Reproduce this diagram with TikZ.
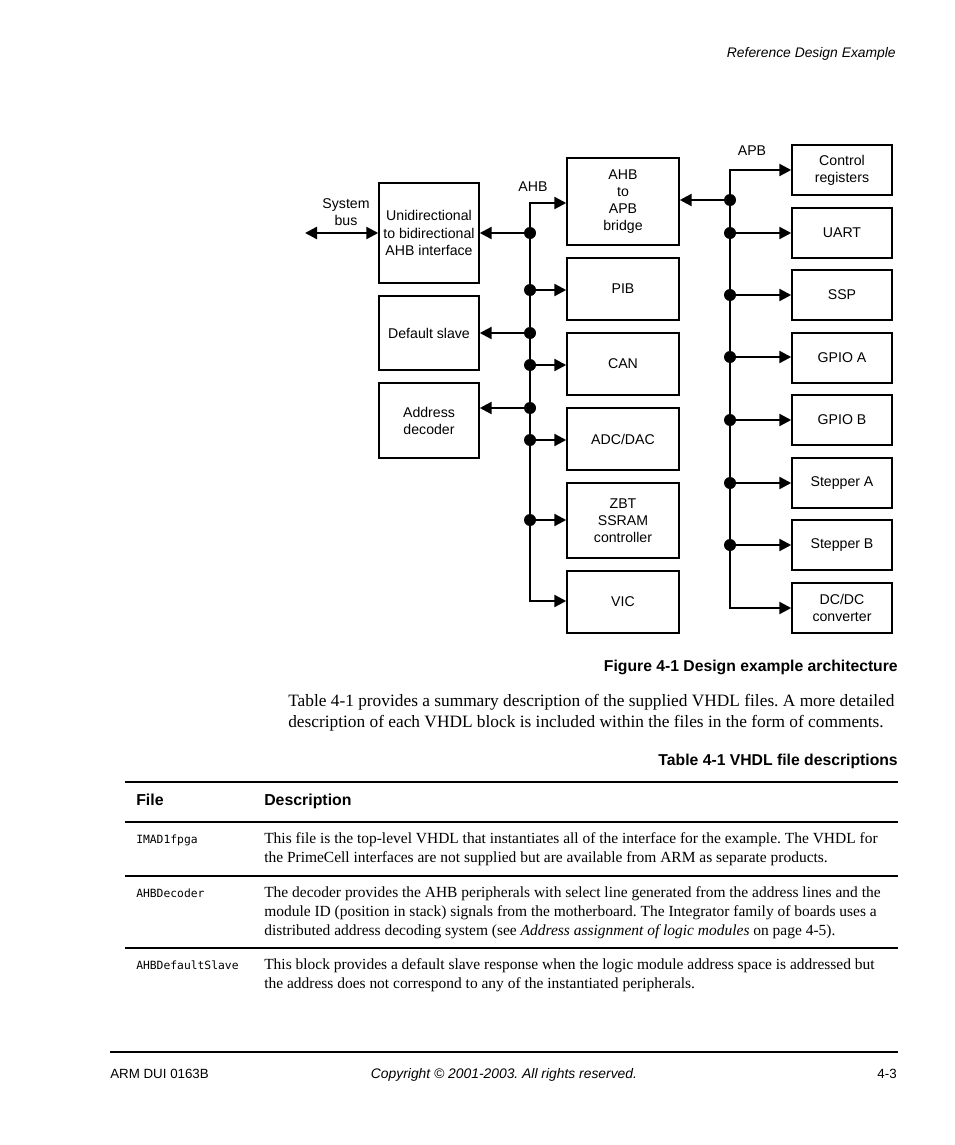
\documentclass[tikz,border=0pt]{standalone}
\usepackage{fontspec}
\setmainfont{Liberation Serif}
\setsansfont{Liberation Sans}
\setmonofont{DejaVu Sans Mono}
\usetikzlibrary{arrows.meta}
\frenchspacing

\tikzset{
  blk/.style={draw,line width=1.1pt,align=center,inner sep=0pt,
    font=\sffamily\fontsize{10.6}{12.8}\selectfont},
  bus/.style={line width=1.8pt},
  tap/.style={bus,-{Triangle[length=9pt,width=9pt]}},
  both/.style={bus,{Triangle[length=9pt,width=9pt]}-{Triangle[length=9pt,width=9pt]}},
  dot/.style={circle,fill,inner sep=0pt,minimum size=9pt},
  lbl/.style={font=\sffamily\fontsize{10.6}{12.8}\selectfont,align=center},
  body/.style={anchor=base west,inner sep=0pt,font=\fontsize{13}{16}\selectfont},
  cell/.style={anchor=base west,inner sep=0pt,font=\fontsize{11.6}{14}\selectfont},
  head/.style={anchor=base west,inner sep=0pt,font=\sffamily\bfseries\fontsize{11.9}{14}\selectfont},
  fname/.style={anchor=base west,inner sep=0pt,font=\ttfamily\fontsize{8.5}{10}\selectfont},
  capt/.style={anchor=base east,inner sep=0pt,font=\sffamily\bfseries\fontsize{11.8}{14}\selectfont},
  foot/.style={inner sep=0pt,font=\sffamily\fontsize{10}{12}\selectfont},
  rule/.style={line width=0.8pt},
}

\begin{document}
\begin{tikzpicture}[x=0.75pt,y=-0.75pt]
  \useasboundingbox (0,0) rectangle (954,1145);

  % page header
  \node[foot,anchor=base east,font=\sffamily\itshape\fontsize{10.4}{12}\selectfont] (hdr) at (896,58) {Reference Design Example};

  % left column
  \node[blk,minimum width=75pt,minimum height=75pt] (ifc) at (429,233) {Unidirectional\\to bidirectional\\AHB interface};
  \node[blk,minimum width=75pt,minimum height=55.5pt] (dslv) at (429,333) {Default slave};
  \node[blk,minimum width=75pt,minimum height=56.25pt] (adec) at (429,420.5) {Address\\decoder};

  % AHB peripherals
  \node[blk,minimum width=84pt,minimum height=65.25pt] (brdg) at (623,201.5) {AHB\\to\\APB\\bridge};
  \node[blk,minimum width=84pt,minimum height=46.5pt] (pib) at (623,289) {PIB};
  \node[blk,minimum width=84pt,minimum height=46.5pt] (can) at (623,364) {CAN};
  \node[blk,minimum width=84pt,minimum height=46.5pt] (adc) at (623,439) {ADC/DAC};
  \node[blk,minimum width=84pt,minimum height=56.25pt] (zbt) at (623,520.5) {ZBT\\SSRAM\\controller};
  \node[blk,minimum width=84pt,minimum height=46.5pt] (vic) at (623,602) {VIC};

  % APB peripherals
  \foreach \n/\y/\t in {ctrl/170/{Control\\registers},uart/233/UART,ssp/295/SSP,
      gpioa/358/GPIO A,gpiob/420/GPIO B,stpa/483/Stepper A,stpb/545/Stepper B,
      dcdc/608/{DC/DC\\converter}}
    \node[blk,minimum width=75pt,minimum height=37.5pt] (\n) at (842,\y) {\t};

  % system bus
  \coordinate (sys) at (305,233);
  \draw[both] (sys) -- (ifc.west);
  \node[lbl] (syslbl) at (346,212) {System\\bus};

  % AHB
  \coordinate (ahbtop) at (530,203);
  \coordinate (ahbbot) at (530,601);
  \node[lbl] (ahblbl) at (533,187) {AHB};
  \draw[both] (brdg.west |- ahbtop) -- (ahbtop) -- (ahbbot) -- (vic.west |- ahbbot);
  \foreach \y/\b/\s in {233/ifc/east,290/pib/west,333/dslv/east,365/can/west,
      408/adec/east,440/adc/west,520/zbt/west} {
    \node[dot] (h\y) at (530,\y) {};
    \draw[tap] (h\y) -- (\b.\s |- h\y);
  }

  % APB
  \coordinate (apbtop) at (730,170);
  \coordinate (apbbot) at (730,608);
  \node[lbl] (apblbl) at (752,151) {APB};
  \draw[both] (ctrl.west |- apbtop) -- (apbtop) -- (apbbot) -- (dcdc.west |- apbbot);
  \foreach \y/\b/\s in {200/brdg/east,233/uart/west,295/ssp/west,357/gpioa/west,
      420/gpiob/west,483/stpa/west,545/stpb/west} {
    \node[dot] (p\y) at (730,\y) {};
    \draw[tap] (p\y) -- (\b.\s |- p\y);
  }

  % captions and text
  \node[capt] (figcap) at (898,671) {Figure 4-1 Design example architecture};
  \node[body] (para1) at (288,706) {Table 4-1 provides a summary description of the supplied VHDL files. A more detailed};
  \node[body] (para2) at (288,727) {description of each VHDL block is included within the files in the form of comments.};
  \node[capt] (tabcap) at (898,765) {Table 4-1 VHDL file descriptions};

  % table
  \foreach \y in {782,822,876,948}
    \draw[rule] (125,\y) -- (898,\y);
  \node[head] (thfile) at (136,805) {File};
  \node[head] (thdesc) at (264,805) {Description};

  \node[fname] (f1) at (136,843) {IMAD1fpga};
  \node[cell] (d1a) at (264,843) {This file is the top-level VHDL that instantiates all of the interface for the example. The VHDL for};
  \node[cell] (d1b) at (264,862) {the PrimeCell interfaces are not supplied but are available from ARM as separate products.};

  \node[fname] (f2) at (136,897) {AHBDecoder};
  \node[cell] (d2a) at (264,897) {The decoder provides the AHB peripherals with select line generated from the address lines and the};
  \node[cell] (d2b) at (264,916) {module ID (position in stack) signals from the motherboard. The Integrator family of boards uses a};
  \node[cell] (d2c) at (264,935) {distributed address decoding system (see \textit{Address assignment of logic modules} on page 4-5).};

  \node[fname] (f3) at (136,969) {AHBDefaultSlave};
  \node[cell] (d3a) at (264,969) {This block provides a default slave response when the logic module address space is addressed but};
  \node[cell] (d3b) at (264,988) {the address does not correspond to any of the instantiated peripherals.};

  % page footer
  \draw[rule] (110,1052) -- (898,1052);
  \node[foot,anchor=base west] (docid) at (110,1078) {ARM DUI 0163B};
  \node[foot,anchor=base,font=\sffamily\itshape\fontsize{10.4}{12}\selectfont] (copy) at (504,1078) {Copyright © 2001-2003. All rights reserved.};
  \node[foot,anchor=base east] (pageno) at (897,1078) {4-3};
\end{tikzpicture}
\end{document}
